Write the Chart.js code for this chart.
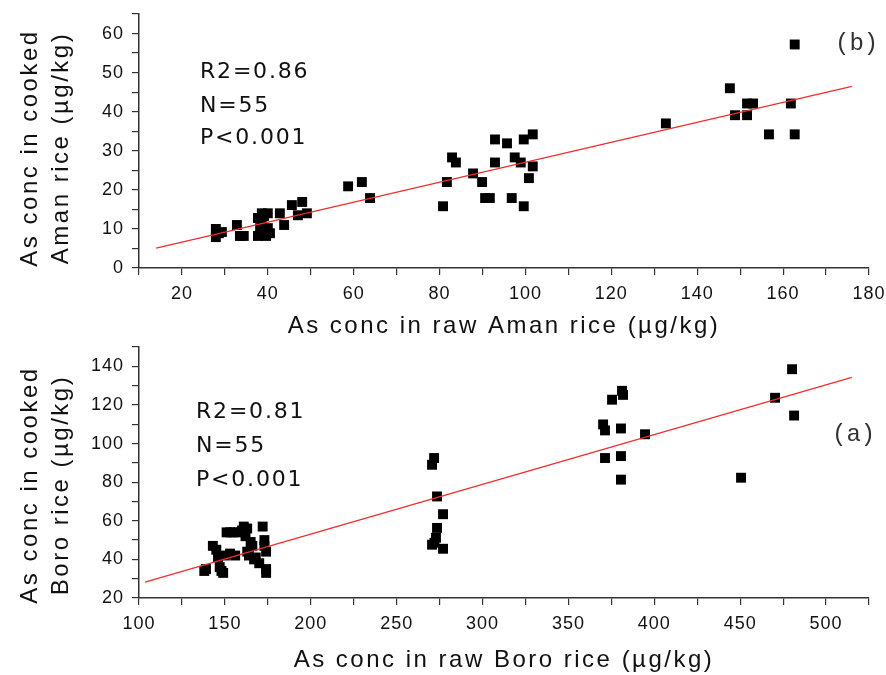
<!DOCTYPE html>
<html>
<head>
<meta charset="utf-8">
<script src="https://cdn.jsdelivr.net/npm/chart.js@4.4.0/dist/chart.umd.min.js"></script>
<style>
  body { margin: 0; background: #fff; }
  canvas { display: block; }
</style>
</head>
<body>
<canvas id="chartAman" width="886" height="340"></canvas>
<canvas id="chartBoro" width="886" height="335"></canvas>
<script>
    // (b) Aman rice, raw vs cooked
    var amanRaw = [162.7, 147.6, 151.6, 153.0, 161.8, 148.8, 151.6, 156.7, 162.7, 132.7,
                   92.9, 95.7, 99.6, 101.7, 82.9, 83.8, 92.9, 97.5, 98.9, 101.7,
                   100.8, 87.8, 89.9, 81.7, 90.6, 91.7, 96.8, 99.6, 80.8,
                   27.9, 27.9, 29.3, 28.6, 32.8, 33.5, 34.4, 37.7, 39.1, 38.6,
                   38.2, 40.0, 37.7, 39.6, 38.6, 40.0, 40.5, 42.8, 43.8, 45.6,
                   48.0, 47.0, 49.1, 58.7, 61.9, 63.8];
    var amanCooked = [57.2, 46.0, 42.1, 42.1, 42.1, 39.1, 39.1, 34.2, 34.2, 37.0,
                      32.9, 31.9, 32.9, 34.2, 28.3, 27.0, 27.0, 28.3, 27.0, 26.0,
                      23.0, 24.2, 22.0, 22.0, 17.9, 17.9, 17.9, 15.8, 15.8,
                      10.0, 7.9, 9.2, 8.9, 11.0, 8.2, 8.2, 12.8, 13.3, 14.0,
                      10.2, 10.2, 8.2, 8.2, 11.2, 14.0, 8.9, 14.0, 11.0, 16.1,
                      16.9, 13.5, 14.0, 20.9, 22.0, 17.9];
    var amanFitX = [14, 176];
    var amanFitY = [5.1, 46.5];
    var amanXTicks = [20, 40, 60, 80, 100, 120, 140, 160, 180];
    var amanYTicks = [0, 10, 20, 30, 40, 50, 60];
    var amanStats = ['R2=0.86', 'N=55', 'P<0.001'];

    // (a) Boro rice, raw vs cooked
    var boroRaw = [138, 139, 143, 145, 146, 147, 148, 149, 150, 151,
                   153, 155, 153, 156, 158, 160, 161, 162, 163, 163,
                   164, 165, 166, 167, 168, 170, 172, 173, 173, 174,
                   174, 174,
                   271.8, 270.6, 273.5, 277.0, 273.5, 272.9, 272.0, 270.6, 277.0,
                   375.4, 381.2, 381.8, 370.2, 371.3, 380.6, 371.3, 380.6, 380.6, 394.6,
                   450.5, 470.3, 481.4, 480.2];
    var boroCooked = [34, 35, 47, 45, 41, 36, 34, 33, 42, 54,
                      54, 54, 43, 42, 54, 55, 57, 52, 56, 44,
                      42, 49, 47, 40, 41, 38, 57, 50, 47, 44,
                      35, 33,
                      92.5, 89.0, 72.6, 63.4, 56.3, 51.2, 48.6, 47.6, 45.5,
                      122.7, 127.3, 125.2, 109.9, 106.8, 107.8, 92.5, 93.5, 81.3, 104.8,
                      82.3, 123.7, 114.5, 138.5];
    var boroFitX = [103.5, 515];
    var boroFitY = [28.2, 134.3];
    var boroXTicks = [100, 150, 200, 250, 300, 350, 400, 450, 500];
    var boroYTicks = [20, 40, 60, 80, 100, 120, 140];
    var boroStats = ['R2=0.81', 'N=55', 'P<0.001'];

    function toPoints(xs, ys) {
        return xs.map(function (x, i) { return { x: x, y: ys[i] }; });
    }

    // axis titles, stats text and panel letter
    var panelText = {
        id: 'panelText',
        beforeDraw: function (chart) {
            chart.ctx.letterSpacing = '1px';
        },
        afterDraw: function (chart) {
            var o = chart.options.plugins.panelText;
            var ctx = chart.ctx;
            ctx.save();
            ctx.fillStyle = '#111';
            ctx.textBaseline = 'alphabetic';
            ctx.letterSpacing = '2.5px';
            ctx.font = '24px "Liberation Sans"';
            ctx.textAlign = 'center';
            ctx.fillText(o.xTitle, 504, o.xTitleY);
            o.yTitle.forEach(function (line, i) {
                ctx.save();
                ctx.translate(o.yTitleX[i], o.yTitleMid);
                ctx.rotate(-Math.PI / 2);
                ctx.fillText(line, 0, 0);
                ctx.restore();
            });
            ctx.textAlign = 'left';
            ctx.letterSpacing = '1.8px';
            ctx.font = '22px "DejaVu Sans"';
            o.stats.forEach(function (s, i) {
                ctx.fillText(s, o.statsX, o.statsY[i]);
            });
            ctx.letterSpacing = '0px';
            ctx.fillStyle = '#333';
            ctx.font = '24px "Liberation Mono"';
            ctx.fillText(o.panel, o.panelX, o.panelY);
            ctx.restore();
        }
    };

    function axis(min, max, step, labels) {
        return {
            type: 'linear',
            min: min,
            max: max,
            grid: { drawOnChartArea: false, drawTicks: true, tickLength: 7, color: '#333', lineWidth: 1.2 },
            border: { display: true, color: '#333', width: 1.5 },
            ticks: {
                stepSize: step,
                autoSkip: false,
                maxRotation: 0,
                padding: 8,
                color: '#111',
                font: { family: 'Liberation Sans', size: 18 },
                callback: function (v) { return labels.indexOf(v) >= 0 ? v : ''; }
            }
        };
    }

    function makeChart(id, raw, cooked, fitX, fitY, xAxis, yAxis, xh, top, text) {
        return new Chart(document.getElementById(id), {
            type: 'scatter',
            data: {
                datasets: [{
                    data: toPoints(fitX, fitY),
                    showLine: true,
                    borderColor: 'rgb(240, 45, 45)',
                    borderWidth: 1.3,
                    pointRadius: 0
                },
                {
                    data: toPoints(raw, cooked),
                    pointStyle: 'rect',
                    pointRadius: 7,
                    backgroundColor: '#000',
                    borderWidth: 0
                }]
            },
            options: {
                responsive: false,
                animation: false,
                events: [],
                layout: { padding: { top: top, right: 17, left: 0, bottom: 0 } },
                plugins: { legend: { display: false }, tooltip: { enabled: false }, panelText: text },
                scales: {
                    x: Object.assign(xAxis, {
                        afterFit: function (s) { s.height = xh; s.paddingLeft = 0; s.paddingRight = 0; }
                    }),
                    y: Object.assign(yAxis, {
                        afterFit: function (s) { s.width = 139; s.paddingTop = 0; s.paddingBottom = 0; }
                    })
                }
            },
            plugins: [panelText]
        });
    }

    var chartAman = makeChart('chartAman', amanRaw, amanCooked, amanFitX, amanFitY,
        axis(10, 180, 10, amanXTicks), axis(0, 65, 5, amanYTicks), 72, 14, {
            xTitle: 'As conc in raw Aman rice (µg/kg)', xTitleY: 333,
            yTitle: ['As conc in cooked', 'Aman rice (µg/kg)'], yTitleX: [37, 68], yTitleMid: 148,
            stats: amanStats, statsX: 200, statsY: [78, 112, 144],
            panel: '(b)', panelX: 835, panelY: 50
        });

    var chartBoro = makeChart('chartBoro', boroRaw, boroCooked, boroFitX, boroFitY,
        axis(100, 525, 25, boroXTicks), axis(20, 150, 10, boroYTicks), 77, 3, {
            xTitle: 'As conc in raw Boro rice (µg/kg)', xTitleY: 327,
            yTitle: ['As conc in cooked', 'Boro rice (µg/kg)'], yTitleX: [37, 68], yTitleMid: 145,
            stats: boroStats, statsX: 196, statsY: [78, 112, 146],
            panel: '(a)', panelX: 832, panelY: 101
        });
</script>
</body>
</html>
